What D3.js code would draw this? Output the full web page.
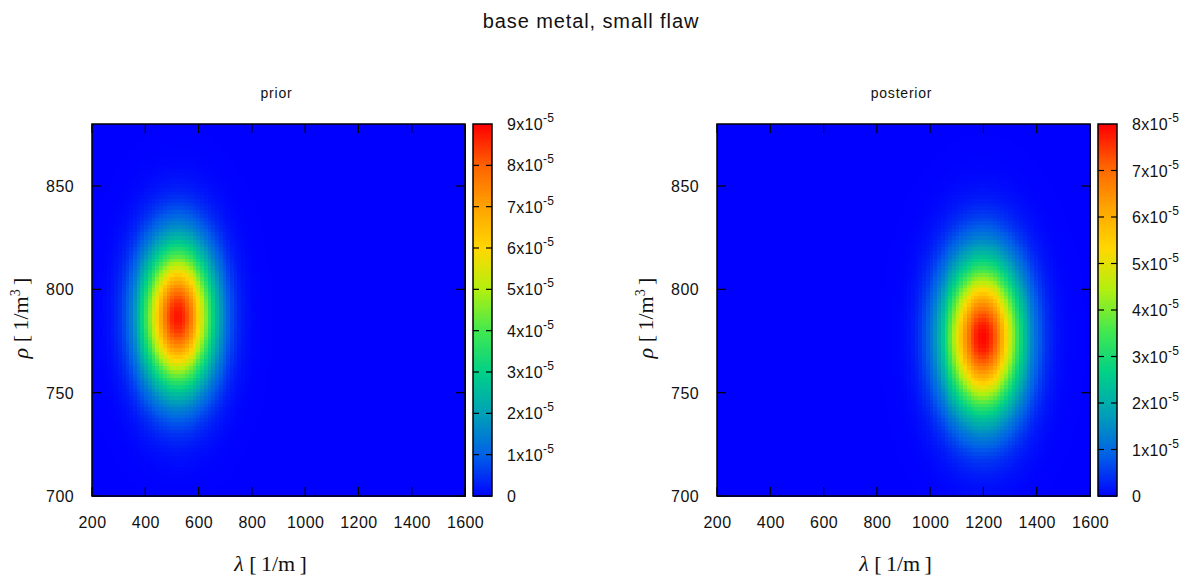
<!DOCTYPE html>
<html>
<head>
<meta charset="utf-8">
<script src="https://cdn.jsdelivr.net/npm/d3@7"></script>
<style>
  html, body { margin: 0; padding: 0; background: #fff; }
  svg { display: block; }
  .sans { font-family: "Liberation Sans", Arial, Helvetica, sans-serif; fill: #111; }
  .serif { font-family: "Liberation Serif", "Times New Roman", serif; fill: #111; }
</style>
</head>
<body>
<svg id="chart" width="1196" height="580"></svg>
<script>
// ---- data -------------------------------------------------------------
const figureTitle = "base metal, small flaw";
const panelTitles = ["prior", "posterior"];

// parameter ranges shown on the axes
const lambdaRange = [200, 1600];   // λ [1/m]
const rhoRange = [700, 880];       // ρ [1/m^3]
const lambdaTicks = [200, 400, 600, 800, 1000, 1200, 1400, 1600];
const rhoTicks = [700, 750, 800, 850];

// bivariate normal densities for each panel
const meanLambda = [522, 1198];
const meanRho = [787, 777];
const sdLambda = [92, 100];
const sdRho = [24, 25.5];
const peakDensity = [8.8e-5, 7.95e-5];

// colour bar ranges and ticks (in units of 1e-5)
const cbMax = [9, 8];
const cbTicksPrior = [0, 1, 2, 3, 4, 5, 6, 7, 8, 9];
const cbTicksPosterior = [0, 1, 2, 3, 4, 5, 6, 7, 8];

// grid resolution of the density map
const nLambda = 100;
const nRho = 100;

// ---- palette ---------------------------------------------------------
const paletteStops = [0, 0.111, 0.222, 0.333, 0.444, 0.555, 0.666, 0.777, 0.888, 1];
const paletteColors = ["#0000ff", "#0060e8", "#00a0b8", "#00d088", "#40e850",
                       "#b0f010", "#ffd800", "#ffa400", "#ff6400", "#ff0000"];

// ---- layout ----------------------------------------------------------
const plotLeft = [92, 717];
const plotW = 373, plotTop = 124, plotH = 372;
const cbGap = 8, cbW = 19;

const svg = d3.select("#chart");

svg.append("text")
  .attr("class", "sans")
  .attr("x", 591).attr("y", 28)
  .attr("text-anchor", "middle")
  .style("font-size", "20px")
  .style("letter-spacing", "0.9px")
  .text(figureTitle);

const cbTickSets = [cbTicksPrior, cbTicksPosterior];

panelTitles.forEach((title, p) => {
  const g = svg.append("g").attr("transform", `translate(${plotLeft[p]},${plotTop})`);

  const x = d3.scaleLinear().domain(lambdaRange).range([0, plotW]);
  const y = d3.scaleLinear().domain(rhoRange).range([plotH, 0]);
  const cNorm = d3.scaleLinear().domain([0, cbMax[p] * 1e-5]).range([0, 1]).clamp(true);
  const palette = d3.scaleLinear().domain(paletteStops).range(paletteColors)
    .interpolate(d3.interpolateRgb);
  const color = v => palette(cNorm(v));

  // density grid
  const dl = (lambdaRange[1] - lambdaRange[0]) / nLambda;
  const dr = (rhoRange[1] - rhoRange[0]) / nRho;
  const cells = [];
  for (let i = 0; i < nLambda; i++) {
    for (let j = 0; j < nRho; j++) {
      const l0 = lambdaRange[0] + i * dl, r0 = rhoRange[0] + j * dr;
      const lc = l0 + dl / 2, rc = r0 + dr / 2;
      const zl = (lc - meanLambda[p]) / sdLambda[p];
      const zr = (rc - meanRho[p]) / sdRho[p];
      cells.push({ l0, r0, v: peakDensity[p] * Math.exp(-0.5 * (zl * zl + zr * zr)) });
    }
  }
  g.append("g")
    .attr("shape-rendering", "crispEdges")
    .selectAll("rect").data(cells).join("rect")
    .attr("x", d => x(d.l0))
    .attr("y", d => y(d.r0 + dr))
    .attr("width", d => x(d.l0 + dl) - x(d.l0) + 0.6)
    .attr("height", d => y(d.r0) - y(d.r0 + dr) + 0.6)
    .attr("fill", d => color(d.v));

  // inward ticks on all four sides
  const tickLen = 9;
  const tg = g.append("g").attr("stroke", "#000").attr("stroke-width", 1.2);
  lambdaTicks.forEach(t => {
    tg.append("line").attr("x1", x(t)).attr("x2", x(t)).attr("y1", plotH).attr("y2", plotH - tickLen);
    tg.append("line").attr("x1", x(t)).attr("x2", x(t)).attr("y1", 0).attr("y2", tickLen);
  });
  rhoTicks.forEach(t => {
    tg.append("line").attr("x1", 0).attr("x2", tickLen).attr("y1", y(t)).attr("y2", y(t));
    tg.append("line").attr("x1", plotW).attr("x2", plotW - tickLen).attr("y1", y(t)).attr("y2", y(t));
  });
  g.append("rect")
    .attr("x", 0).attr("y", 0).attr("width", plotW).attr("height", plotH)
    .attr("fill", "none").attr("stroke", "#000").attr("stroke-width", 1.5);

  // tick labels
  g.append("g").selectAll("text").data(lambdaTicks).join("text")
    .attr("class", "sans")
    .attr("x", d => x(d) + 0.5).attr("y", plotH + 32)
    .attr("text-anchor", "middle")
    .style("font-size", "16px").style("letter-spacing", "0.4px")
    .text(d => d);
  g.append("g").selectAll("text").data(rhoTicks).join("text")
    .attr("class", "sans")
    .attr("x", -18).attr("y", d => y(d) + 6)
    .attr("text-anchor", "end")
    .style("font-size", "16px").style("letter-spacing", "0.4px")
    .text(d => d);

  // panel title
  g.append("text")
    .attr("class", "sans")
    .attr("x", plotW / 2 - 2).attr("y", -26)
    .attr("text-anchor", "middle")
    .style("font-size", "14px").style("letter-spacing", "0.8px")
    .text(title);

  // axis labels
  const xl = g.append("text")
    .attr("class", "serif")
    .attr("x", plotW / 2 - 8).attr("y", plotH + 75)
    .attr("text-anchor", "middle")
    .style("font-size", "22px");
  xl.append("tspan").style("font-style", "italic").text("λ");
  xl.append("tspan").text(" [\u20091/m\u2009]");

  const yl = g.append("text")
    .attr("class", "serif")
    .attr("transform", `translate(-64,${plotH / 2 + 8}) rotate(-90)`)
    .attr("text-anchor", "middle")
    .style("font-size", "22px");
  yl.append("tspan").style("font-style", "italic").text("ρ");
  yl.append("tspan").text(" [\u20091/m");
  yl.append("tspan").attr("dy", -8).style("font-size", "14px").text("3");
  yl.append("tspan").attr("dy", 8).text("\u2009]");

  // colour bar
  const cb = g.append("g").attr("transform", `translate(${plotW + cbGap},0)`);
  const cy = d3.scaleLinear().domain([0, cbMax[p]]).range([plotH, 0]);
  const nStrips = 186;
  const strips = d3.range(nStrips).map(k => (k + 0.5) / nStrips * cbMax[p]);
  cb.append("g").attr("shape-rendering", "crispEdges")
    .selectAll("rect").data(strips).join("rect")
    .attr("x", 0).attr("width", cbW)
    .attr("y", d => cy(d + cbMax[p] / nStrips / 2))
    .attr("height", plotH / nStrips + 0.6)
    .attr("fill", d => color(d * 1e-5));
  const ticks = cbTickSets[p];
  const cbt = cb.append("g").attr("stroke", "#000").attr("stroke-width", 1.2);
  ticks.slice(1, -1).forEach(t => {
    cbt.append("line").attr("x1", 0).attr("x2", 6).attr("y1", cy(t)).attr("y2", cy(t));
    cbt.append("line").attr("x1", cbW - 6).attr("x2", cbW).attr("y1", cy(t)).attr("y2", cy(t));
  });
  cb.append("rect").attr("width", cbW).attr("height", plotH)
    .attr("fill", "none").attr("stroke", "#000").attr("stroke-width", 1.5);

  const lab = cb.append("g").selectAll("text").data(ticks).join("text")
    .attr("class", "sans")
    .attr("x", cbW + 15).attr("y", d => cy(d) + 6)
    .style("font-size", "16px").style("letter-spacing", "0.3px");
  lab.each(function(d) {
    const t = d3.select(this);
    if (d === 0) { t.text("0"); return; }
    t.append("tspan").text(`${d}x10`);
    t.append("tspan").attr("dy", -8).style("font-size", "12px").text("-5");
  });
});
</script>
</body>
</html>
